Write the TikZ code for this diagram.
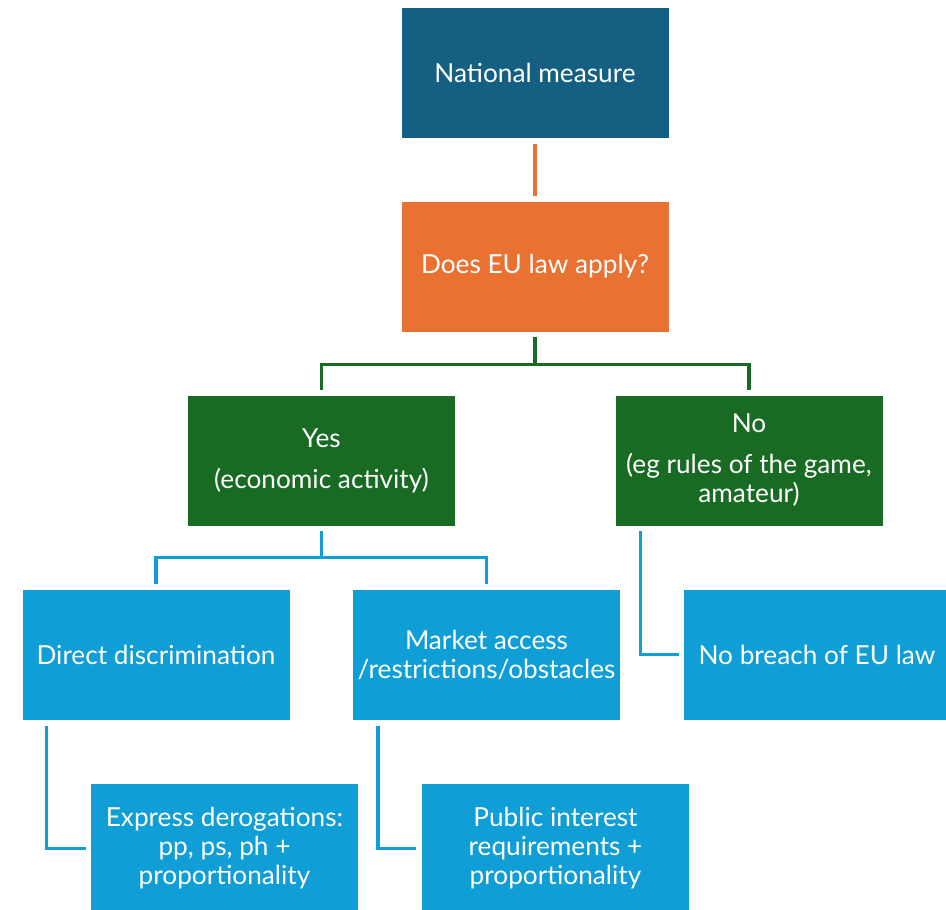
\documentclass[tikz,border=0pt]{standalone}
\usepackage{fontspec}
\setmainfont{Lato}
\definecolor{topblue}{HTML}{156082}
\definecolor{eorange}{HTML}{E97132}
\definecolor{dgreen}{HTML}{196B24}
\definecolor{lblue}{HTML}{0F9ED5}
\begin{document}
\begin{tikzpicture}[x=1pt,y=1pt,
  box/.style={minimum width=268pt,minimum height=131pt,inner sep=0pt,
    draw=white,line width=.6pt,text=white,align=center,
    font=\fontsize{26.2}{29}\selectfont},
  link/.style={line width=3.5pt}]
  \useasboundingbox (0,0) rectangle (946,910);
  % top of the tree
  \node[box,fill=topblue] (NM) at (535,837)   {National measure};
  \node[box,fill=eorange] (EU) at (535,643.5) {Does EU law apply?};
  % second level
  \node[box,fill=dgreen]  (Yes) at (321.5,449.5) {Yes\\[12pt](economic activity)};
  \node[box,fill=dgreen]  (No)  at (749,449.5)   {No\\[12pt](eg rules of the game,\\amateur)};
  % third level
  \node[box,fill=lblue]   (DD) at (156,255.5)   {Direct discrimination};
  \node[box,fill=lblue]   (MA) at (486.5,255.5) {Market access\\/restrictions/obstacles};
  \node[box,fill=lblue]   (NB) at (817,255.5)   {No breach of EU law};
  % bottom level
  \node[box,fill=lblue]   (ED) at (224.5,61.5)  {Express derogations:\\pp, ps, ph +\\proportionality};
  \node[box,fill=lblue]   (PI) at (555.5,61.5)  {Public interest\\requirements +\\proportionality};
  % connectors
  \draw[link,eorange] ([yshift=-5pt]NM.south) -- ([yshift=5pt]EU.north);
  \draw[link,dgreen] ([yshift=-5pt]EU.south) -- ++(0,-27) -| ([yshift=5pt]Yes.north);
  \draw[link,dgreen] ([yshift=-5pt]EU.south) -- ++(0,-27) -| ([yshift=5pt]No.north);
  \draw[link,lblue] ([yshift=-5pt]Yes.south) -- ++(0,-26) -| ([yshift=5pt]DD.north);
  \draw[link,lblue] ([yshift=-5pt]Yes.south) -- ++(0,-26) -| ([yshift=5pt]MA.north);
  \draw[link,lblue] ([xshift=26pt,yshift=-5pt]No.south west) |- ([xshift=-4pt]NB.west);
  \draw[link,lblue] ([xshift=25pt,yshift=-6pt]DD.south west) |- ([xshift=-4pt]ED.west);
  \draw[link,lblue] ([xshift=26pt,yshift=-6pt]MA.south west) |- ([xshift=-5pt]PI.west);
\end{tikzpicture}
\end{document}
